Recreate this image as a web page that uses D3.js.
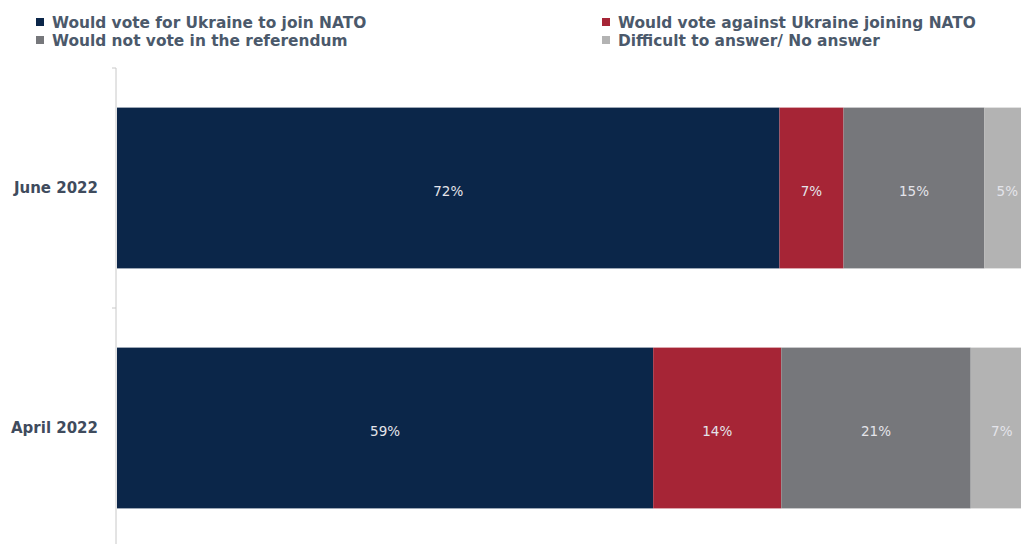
<!DOCTYPE html>
<html>
<head>
<meta charset="utf-8">
<script src="https://cdn.jsdelivr.net/npm/d3@7.9.0/dist/d3.min.js"></script>
<style>
  html, body { margin: 0; padding: 0; background: #fff; }
  svg { display: block; font-family: "DejaVu Sans", Verdana, sans-serif; }
</style>
</head>
<body>
<div id="chart"></div>
<script>
const periods = ["June 2022", "April 2022"];
const seriesNames = [
  "Would vote for Ukraine to join NATO",
  "Would vote against Ukraine joining NATO",
  "Would not vote in the referendum",
  "Difficult to answer/ No answer"
];
// share of respondents, %
const voteFor = [72.4, 58.6];
const voteAgainst = [7.0, 14.0];
const notVote = [15.4, 20.7];
const noAnswer = [5.0, 6.8];

const colors = ["#0b2649", "#a62536", "#76777b", "#b3b3b3"];

const width = 1021, height = 544;
const svg = d3.select("#chart").append("svg")
  .attr("width", width)
  .attr("height", height);

const rows = periods.map((p, i) => ({
  period: p,
  values: [voteFor[i], voteAgainst[i], notVote[i], noAnswer[i]]
}));

const x = d3.scaleLinear().domain([0, 100]).range([117, 1032]);
const y = d3.scaleBand().domain(periods).range([68, 548])
  .paddingInner(0.33).paddingOuter(0.165);

// legend, two columns: left = for / not vote, right = against / no answer
const legendPos = [
  { x: 36, y: 23 }, { x: 602, y: 23 },
  { x: 36, y: 41 }, { x: 602, y: 41 }
];
const legend = svg.append("g");
seriesNames.forEach((name, i) => {
  const item = legend.append("g").attr("transform", `translate(${legendPos[i].x},${legendPos[i].y})`);
  item.append("rect")
    .attr("x", 0).attr("y", -5)
    .attr("width", 8).attr("height", 8)
    .attr("fill", colors[i]);
  item.append("text")
    .attr("x", 16).attr("y", 0)
    .attr("dy", "0.35em")
    .style("font-size", "15.4px")
    .style("font-weight", "600")
    .style("fill", "#4b596b")
    .text(name);
});

// axis
const axis = svg.append("g")
  .attr("transform", "translate(116,0)")
  .call(d3.axisLeft(y).tickSize(0).tickPadding(18));
axis.select(".domain").attr("stroke", "#c8c8c8").attr("d", "M0,68V548");
axis.selectAll(".tick text")
  .style("font-size", "15px")
  .style("font-weight", "600")
  .style("font-family", "\"DejaVu Sans\", Verdana, sans-serif")
  .style("fill", "#3f4b5d");

// tick marks between categories
svg.append("g").selectAll("line")
  .data([68, 308, 548])
  .join("line")
  .attr("x1", 112).attr("x2", 116)
  .attr("y1", d => d).attr("y2", d => d)
  .attr("stroke", "#c8c8c8");

// stacked bars
rows.forEach(row => {
  let acc = 0;
  const segs = row.values.map((v, i) => {
    const s = { start: acc, value: v, i };
    acc += v;
    return s;
  });
  const g = svg.append("g");
  g.selectAll("rect")
    .data(segs)
    .join("rect")
    .attr("x", d => x(d.start))
    .attr("y", y(row.period))
    .attr("width", d => x(d.start + d.value) - x(d.start))
    .attr("height", y.bandwidth())
    .attr("fill", d => colors[d.i]);
  g.selectAll("text")
    .data(segs)
    .join("text")
    .attr("x", d => x(d.start + d.value / 2))
    .attr("y", y(row.period) + y.bandwidth() / 2 + 3)
    .attr("text-anchor", "middle")
    .attr("dy", "0.35em")
    .style("font-size", "13.5px")
    .style("fill", "#e4e4ea")
    .text(d => Math.round(d.value) + "%");
});
</script>
</body>
</html>
